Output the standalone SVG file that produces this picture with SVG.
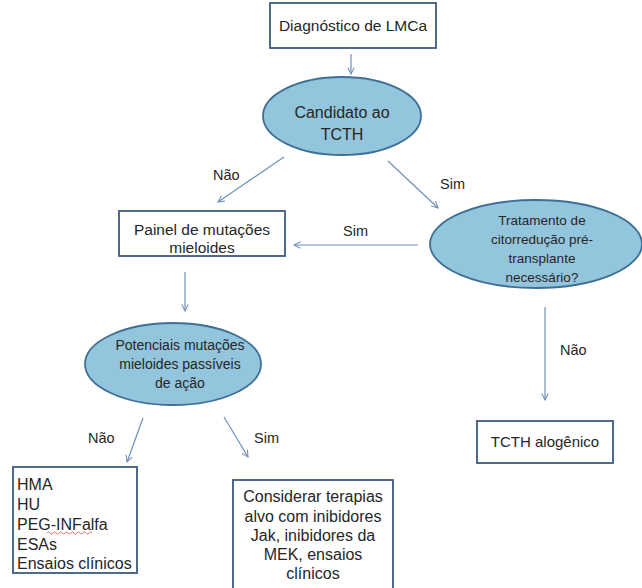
<svg xmlns="http://www.w3.org/2000/svg" width="642" height="588" viewBox="0 0 642 588">
<defs>
<marker id="ah" viewBox="0 0 10 10" refX="9" refY="5" markerWidth="8" markerHeight="8" orient="auto" markerUnits="userSpaceOnUse">
<path d="M1,1 L9,5 L1,9" fill="none" stroke="#6f8fbc" stroke-width="1.3"/>
</marker>
</defs>
<style>
.box{fill:#ffffff;stroke:#3c5a7e;stroke-width:1.8}
.ell{fill:#93c5dc;stroke:#3f6f96;stroke-width:1.8}
.t{font-family:"Liberation Sans",Arial,sans-serif;fill:#262626}
.c{text-anchor:middle}
.lbl{font-family:"Liberation Sans",Arial,sans-serif;fill:#262626;font-size:14.5px}
.con{stroke:#6f8fbc;stroke-width:1.2;fill:none;marker-end:url(#ah)}
</style>
<rect width="642" height="588" fill="#ffffff"/>
<g id="connectors">
<line class="con" x1="351" y1="54" x2="351" y2="74"/>
<line class="con" x1="284" y1="157" x2="218" y2="202"/>
<line class="con" x1="388" y1="161" x2="438" y2="208"/>
<line class="con" x1="418" y1="245" x2="294" y2="245"/>
<line class="con" x1="185" y1="272" x2="185" y2="311"/>
<line class="con" x1="545" y1="307" x2="545" y2="400"/>
<line class="con" x1="143" y1="418" x2="127" y2="462"/>
<line class="con" x1="224" y1="417" x2="248" y2="457"/>
<text class="lbl" x="213" y="180">Não</text>
<text class="lbl" x="440" y="189">Sim</text>
<text class="lbl" x="343" y="236">Sim</text>
<text class="lbl" x="560" y="355">Não</text>
<text class="lbl" x="88" y="443">Não</text>
<text class="lbl" x="254" y="443">Sim</text>
</g>
<g id="diagnostico">
<rect class="box" x="270" y="3" width="166" height="45"/>
<text class="t c" x="353" y="31" font-size="15.5">Diagnóstico de LMCa</text>
</g>
<g id="candidato">
<ellipse class="ell" cx="342" cy="116" rx="79" ry="39"/>
<text class="t c" x="342" y="118" font-size="16">Candidato ao</text>
<text class="t c" x="342" y="140" font-size="16">TCTH</text>
</g>
<g id="painel">
<rect class="box" x="119" y="211" width="166" height="45"/>
<text class="t c" x="202" y="235" font-size="15.5">Painel de mutações</text>
<text class="t c" x="202" y="253" font-size="15.5">mieloides</text>
</g>
<g id="tratamento">
<ellipse class="ell" cx="536" cy="244" rx="106" ry="44"/>
<text class="t c" x="542" y="225" font-size="13.5">Tratamento de</text>
<text class="t c" x="542" y="244" font-size="13.5">citorredução pré-</text>
<text class="t c" x="542" y="263" font-size="13.5">transplante</text>
<text class="t c" x="542" y="282" font-size="13.5">necessário?</text>
</g>
<g id="potenciais">
<ellipse class="ell" cx="173" cy="364" rx="88" ry="41"/>
<text class="t c" x="180" y="350" font-size="14">Potenciais mutações</text>
<text class="t c" x="180" y="369" font-size="14">mieloides passíveis</text>
<text class="t c" x="180" y="388" font-size="14">de ação</text>
</g>
<g id="tcth-alogenico">
<rect class="box" x="477" y="421" width="136" height="42"/>
<text class="t c" x="545" y="447" font-size="15">TCTH alogênico</text>
</g>
<g id="hma">
<rect class="box" x="13" y="467" width="124" height="106"/>
<text class="t" x="17" y="490" font-size="16">HMA</text>
<text class="t" x="17" y="510" font-size="16">HU</text>
<text class="t" x="17" y="530" font-size="16">PEG-INFalfa</text>
<path d="M47,533 q1.5,-2 3,0 t3,0 t3,0 t3,0 t3,0 t3,0 t3,0 t3,0 t3,0 t3,0 t3,0 t3,0 t3,0 t3,0 t3,0" fill="none" stroke="#e05050" stroke-width="0.8"/>
<text class="t" x="17" y="550" font-size="16">ESAs</text>
<text class="t" x="17" y="569" font-size="16">Ensaios clínicos</text>
</g>
<g id="considerar">
<rect class="box" x="233" y="480" width="160" height="115"/>
<text class="t c" x="313" y="502" font-size="16">Considerar terapias</text>
<text class="t c" x="313" y="522" font-size="16">alvo com inibidores</text>
<text class="t c" x="313" y="541" font-size="16">Jak, inibidores da</text>
<text class="t c" x="313" y="560" font-size="16">MEK, ensaios</text>
<text class="t c" x="313" y="579" font-size="16">clínicos</text>
</g>
</svg>
